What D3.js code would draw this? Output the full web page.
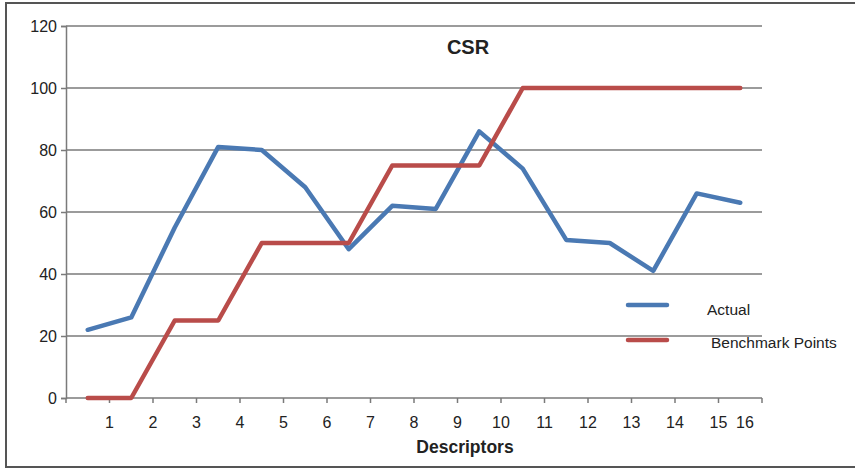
<!DOCTYPE html>
<html>
<head>
<meta charset="utf-8">
<script src="https://cdn.jsdelivr.net/npm/d3@7"></script>
<style>
  html, body { margin: 0; padding: 0; background: #fff; }
  svg { display: block; font-family: "Liberation Sans", Arial, sans-serif; }
</style>
</head>
<body>
<svg id="chart" width="855" height="470"></svg>
<script>
// Descriptor categories and the two series
const descriptors = ["1","2","3","4","5","6","7","8","9","10","11","12","13","14","15","16"];
const actual      = [22, 26, 55, 81, 80, 68, 48, 62, 61, 86, 74, 51, 50, 41, 66, 63];
const benchmark   = [0, 0, 25, 25, 50, 50, 50, 75, 75, 75, 100, 100, 100, 100, 100, 100];
const yTicks      = [0, 20, 40, 60, 80, 100, 120];
const seriesNames = ["Actual", "Benchmark Points"];
const seriesColors = ["#4a79b3", "#b94c4a"];

const svg = d3.select("#chart");
const margin = { left: 66, right: 93, top: 26, bottom: 72 };
const W = 855, H = 470;
const plotW = W - margin.left - margin.right;
const plotH = H - margin.top - margin.bottom;

// outer frame
svg.append("rect")
  .attr("x", 6).attr("y", 3)
  .attr("width", 860).attr("height", 464)
  .attr("fill", "#fff").attr("stroke", "#555").attr("stroke-width", 2);

const g = svg.append("g").attr("transform", `translate(${margin.left},${margin.top})`);

const x = d3.scaleBand().domain(descriptors).range([0, plotW]).paddingInner(0).paddingOuter(0);
const y = d3.scaleLinear().domain([0, 120]).range([plotH, 0]);

// horizontal gridlines
g.append("g").selectAll("line")
  .data(yTicks.filter(d => d > 0))
  .join("line")
  .attr("x1", 0).attr("x2", plotW)
  .attr("y1", d => y(d)).attr("y2", d => y(d))
  .attr("stroke", "#7a7a7a").attr("stroke-width", 1.5);

// y axis
const yAxis = g.append("g")
  .call(d3.axisLeft(y).tickValues(yTicks).tickSize(5).tickPadding(4));
yAxis.select(".domain").attr("stroke", "#7a7a7a").attr("stroke-width", 1.5);
yAxis.selectAll(".tick line").attr("stroke", "#7a7a7a").attr("stroke-width", 1.5);
yAxis.selectAll(".tick text")
  .attr("font-size", 16).attr("fill", "#222")
  .attr("font-family", "Liberation Sans, Arial, sans-serif");

// x axis: tick marks on the category boundaries
const boundaries = d3.range(descriptors.length + 1).map(i => i * x.bandwidth());
const xAxisG = g.append("g").attr("transform", `translate(0,${plotH})`);
xAxisG.append("line")
  .attr("x1", 0).attr("x2", plotW).attr("y1", 0).attr("y2", 0)
  .attr("stroke", "#7a7a7a").attr("stroke-width", 1.5);
xAxisG.selectAll("line.tick")
  .data(boundaries)
  .join("line").attr("class", "tick")
  .attr("x1", d => d).attr("x2", d => d)
  .attr("y1", 0).attr("y2", 5)
  .attr("stroke", "#7a7a7a").attr("stroke-width", 1.5);
xAxisG.selectAll("text.lbl")
  .data(descriptors)
  .join("text").attr("class", "lbl")
  .attr("x", (d, i) => Math.min(x(d) + x.bandwidth(), plotW - 17))
  .attr("y", 30)
  .attr("text-anchor", "middle")
  .attr("font-size", 16).attr("fill", "#222")
  .text(d => d);

// axis title
g.append("text")
  .attr("x", plotW / 2 + 51).attr("y", plotH + 55)
  .attr("text-anchor", "middle")
  .attr("font-size", 17.5).attr("font-weight", "bold").attr("fill", "#222")
  .text("Descriptors");

// chart title
g.append("text")
  .attr("x", plotW / 2 + 54).attr("y", 28)
  .attr("text-anchor", "middle")
  .attr("font-size", 20).attr("font-weight", "bold").attr("fill", "#222")
  .text("CSR");

// series lines
const line = d3.line()
  .x((d, i) => x(descriptors[i]) + x.bandwidth() / 2)
  .y(d => y(d));

[actual, benchmark].forEach((vals, k) => {
  g.append("path")
    .datum(vals)
    .attr("d", line)
    .attr("fill", "none")
    .attr("stroke", seriesColors[k])
    .attr("stroke-width", 4.5)
    .attr("stroke-linejoin", "round")
    .attr("stroke-linecap", "round");
});

// legend
const legend = svg.append("g");
seriesNames.forEach((name, k) => {
  const ly = 305 + k * 35;
  legend.append("line")
    .attr("x1", 628).attr("x2", 667)
    .attr("y1", ly).attr("y2", ly)
    .attr("stroke", seriesColors[k]).attr("stroke-width", 4.5)
    .attr("stroke-linecap", "round");
  legend.append("text")
    .attr("x", k === 0 ? 707 : 711).attr("y", k === 0 ? 315 : 348)
    .attr("font-size", 15.5).attr("fill", "#222")
    .text(name);
});
</script>
</body>
</html>
